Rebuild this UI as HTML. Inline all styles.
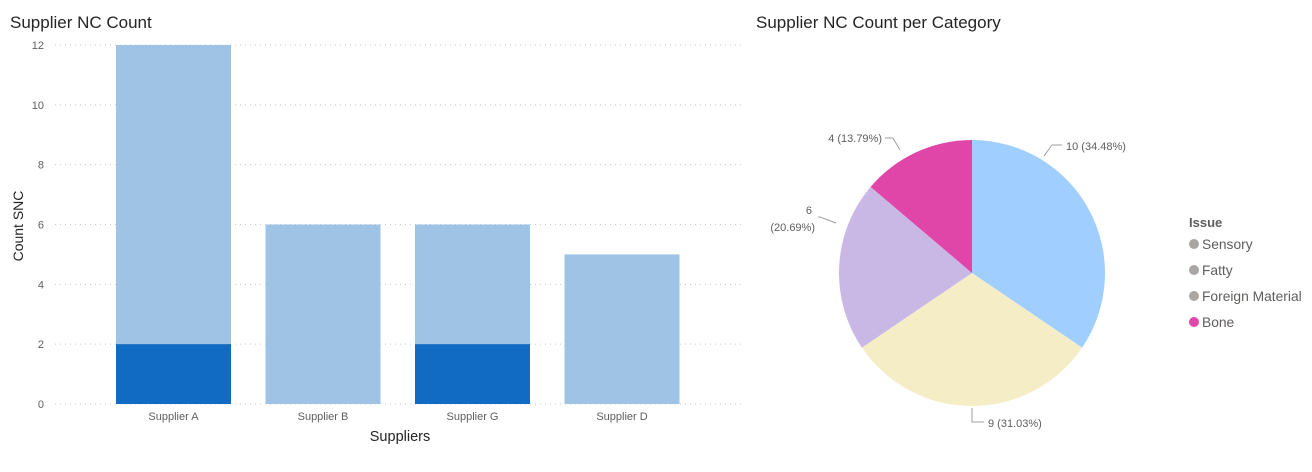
<!DOCTYPE html>
<html><head><meta charset="utf-8"><style>
html,body{margin:0;padding:0;background:#fff;width:1312px;height:472px;overflow:hidden;font-family:"Liberation Sans",sans-serif}
</style></head><body>
<svg width="1312" height="472" font-family="Liberation Sans, sans-serif">
<text x="10" y="28" font-size="17" fill="#252423">Supplier NC Count</text>
<text x="756" y="28" font-size="17" fill="#252423">Supplier NC Count per Category</text>
<g id="bars"></g>
<text x="400" y="441" font-size="14.5" fill="#252423" text-anchor="middle">Suppliers</text>
<text transform="translate(23,226) rotate(-90)" font-size="14" fill="#252423" text-anchor="middle">Count SNC</text>
<g id="pie"></g>
<g>
<text x="1189" y="227" font-size="13" font-weight="bold" fill="#605e5c">Issue</text>
</g>
<g id="legend"></g>
</svg>
<script>
const categories=["Supplier A","Supplier B","Supplier G","Supplier D"];
const totalValues=[12,6,6,5];
const darkValues=[2,0,2,0];
const yTicks=[0,2,4,6,8,10,12];
const pieLabels=["Sensory","Fatty","Foreign Material","Bone"];
const pieValues=[10,9,6,4];
const pieColors=["#a0cfff","#f5edc5","#c9b8e6","#e045a8"];
const legendColors=["#aaa6a4","#aaa6a4","#aaa6a4","#e045a8"];
const NS="http://www.w3.org/2000/svg";
function mk(t,a,p){const e=document.createElementNS(NS,t);for(const k in a)e.setAttribute(k,a[k]);p.appendChild(e);return e;}
const y0=404,yTop=45,yMax=12;
const ys=v=>y0-(v/yMax)*(y0-yTop);
const xs=i=>116+i*149.5;
const bw=115;
const bars=document.getElementById('bars');
yTicks.forEach(t=>{
 const l=mk('line',{x1:55,x2:742,y1:ys(t),y2:ys(t),stroke:'#c8c6c4','stroke-dasharray':'1,4'},bars);
 
 
 const tx=mk('text',{x:44,y:ys(t)+4,'font-size':11,fill:'#605e5c','text-anchor':'end'},bars);tx.textContent=t;
 
 
});
categories.forEach((c,i)=>{
 const r=mk('rect',{x:xs(i),y:ys(totalValues[i]),width:bw,height:y0-ys(totalValues[i]),fill:'#9fc3e4'},bars);
 
 
 if(darkValues[i]>0){const d=mk('rect',{x:xs(i),y:ys(darkValues[i]),width:bw,height:y0-ys(darkValues[i]),fill:'#116bc3'},bars);
 
 }
 const t=mk('text',{x:xs(i)+bw/2,y:420,'font-size':11,fill:'#605e5c','text-anchor':'middle'},bars);t.textContent=c;
 
 
});
const pie=document.getElementById('pie');
const cx=972,cy=273,R=133;
const total=pieValues.reduce((a,b)=>a+b,0);
let a0=0;
// layout: label anchor, leader start point, elbow point
const lblLayout=[
 {x:1066,y:150,anc:'start',s:[1044,156],e:[1052,145]},
 {x:988,y:427,anc:'start',s:[972,408],e:[972,422]},
 {x:815,y:213,anc:'end',s:[836,223],e:[820,217]},
 {x:882,y:142,anc:'end',s:[900,150],e:[893,138]}
];
pieValues.forEach((v,i)=>{
 const a1=a0+v/total*2*Math.PI;
 const p=(a)=>[cx+R*Math.sin(a),cy-R*Math.cos(a)];
 const [x1,y1]=p(a0),[x2,y2]=p(a1);
 const s=mk('path',{d:`M${cx},${cy}L${x1},${y1}A${R},${R} 0 ${a1-a0>Math.PI?1:0} 1 ${x2},${y2}Z`,fill:pieColors[i]},pie);
 
 
 const L=lblLayout[i];
 const pct=(v/total*100).toFixed(2);
 const endX=L.anc==='start'?L.x-4:L.x+3;
 const ln=mk('polyline',{points:`${L.s[0]},${L.s[1]} ${L.e[0]},${L.e[1]} ${endX},${L.e[1]}`,fill:'none',stroke:'#a19f9d'},pie);
 
 
 const t=mk('text',{x:L.x,y:L.y,'font-size':11,fill:'#605e5c','text-anchor':L.anc},pie);
 if(i===2){t.innerHTML=`<tspan x="${L.x-3}" y="${L.y+1}">${v}</tspan><tspan x="${L.x}" y="${L.y+18}">(${pct}%)</tspan>`;}
 else t.textContent=`${v} (${pct}%)`;
 
 
 a0=a1;
});
const lg=document.getElementById('legend');
pieLabels.forEach((l,i)=>{
 const y=244+i*26;
 const c=mk('circle',{cx:1194,cy:y,r:5,fill:legendColors[i]},lg);
 
 
 const t=mk('text',{x:1202,y:y+5,'font-size':13.8,fill:'#605e5c'},lg);t.textContent=l;
 
 
});
</script>
</body></html>
